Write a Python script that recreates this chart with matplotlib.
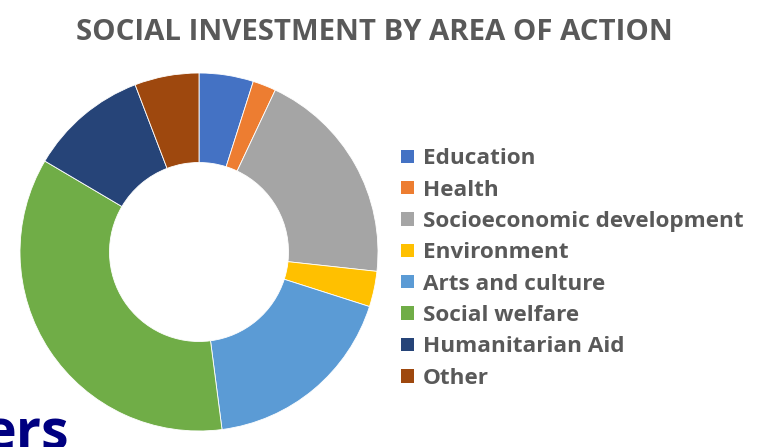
import numpy as np
import matplotlib
matplotlib.use('Agg')
import matplotlib.pyplot as plt
from matplotlib.patches import Patch

# Social investment share by area of action (%)
areas = ['Education', 'Health', 'Socioeconomic development', 'Environment',
         'Arts and culture', 'Social welfare', 'Humanitarian Aid', 'Other']
shares = [4.9, 2.1, 19.7, 3.2, 18.0, 35.5, 10.7, 5.8]
colors = ['#4472C4', '#ED7D31', '#A5A5A5', '#FFC000',
          '#5B9BD5', '#70AD47', '#264478', '#9E480E']

title = 'SOCIAL INVESTMENT BY AREA OF ACTION'

plt.rcParams['font.family'] = ['Open Sans', 'DejaVu Sans']

W, H = 769, 447
fig = plt.figure(figsize=(W / 100, H / 100), dpi=100)

# donut: centre ~(199, 252) px, outer radius ~179 px
cx, cy, r = 199, 252, 179
ax = fig.add_axes([(cx - r) / W, (H - cy - r) / H, 2 * r / W, 2 * r / H])
wedges, _ = ax.pie(shares, colors=colors, startangle=90, counterclock=False,
                   radius=1.0, wedgeprops=dict(width=0.5, edgecolor='white',
                                               linewidth=0.6))
ax.set_xlim(-1, 1)
ax.set_ylim(-1, 1)
ax.set_aspect('equal')
ax.axis('off')

fig.text(374 / W, 1 - 33 / H, title, ha='center', va='center',
         fontsize=21.2, fontweight='bold', color='#595959')

handles = [Patch(facecolor=c, edgecolor='none') for c in colors]
leg = fig.legend(handles, areas, loc='upper left',
                 bbox_to_anchor=(390 / W, 1 - 137 / H), frameon=False,
                 fontsize=16.2, handlelength=0.55, handleheight=0.55,
                 handletextpad=0.4, labelspacing=0.46, borderpad=0)
for t in leg.get_texts():
    t.set_color('#595959')
    t.set_fontweight('bold')

# cut-off slide heading in the bottom-left corner
fig.text(-16 / W, -2 / H, 'ers', ha='left', va='baseline', fontsize=40,
         fontweight='bold', color='#000080')

fig.savefig('out.png', dpi=100)
